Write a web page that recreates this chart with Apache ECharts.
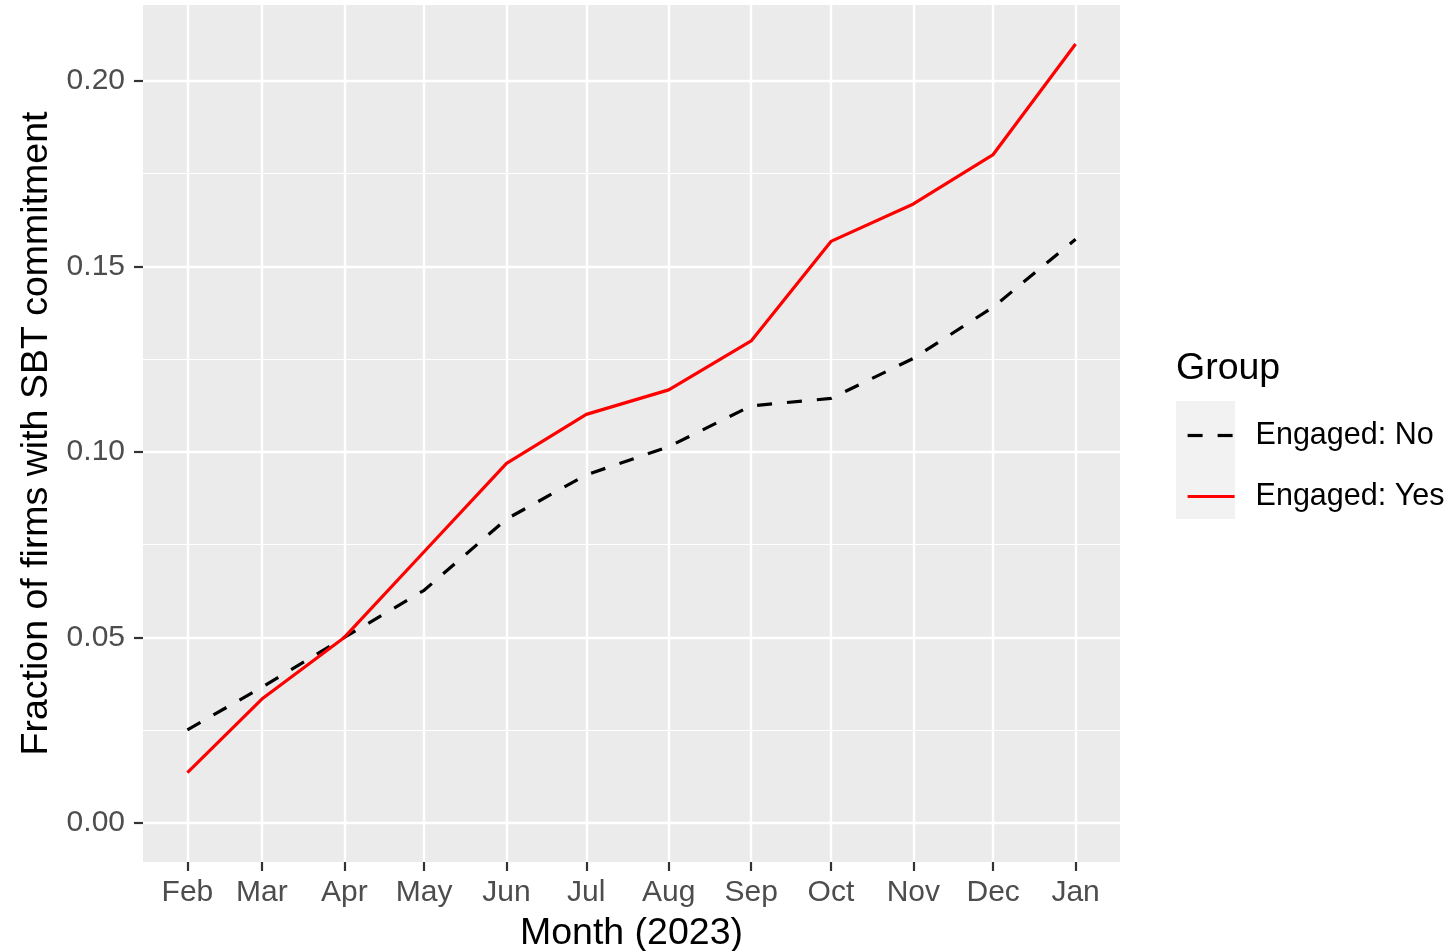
<!DOCTYPE html>
<html><head><meta charset="utf-8">
<script src="https://cdn.jsdelivr.net/npm/echarts@6/dist/echarts.min.js"></script>
<style>html,body{margin:0;padding:0;background:#fff}#c{width:1452px;height:951px}</style>
</head><body><div id="c"></div>
<script>
const months = ['2023-02-01','2023-03-01','2023-04-01','2023-05-01','2023-06-01','2023-07-01','2023-08-01','2023-09-01','2023-10-01','2023-11-01','2023-12-01','2024-01-01'];
const monthLabels = ['Feb','Mar','Apr','May','Jun','Jul','Aug','Sep','Oct','Nov','Dec','Jan'];
const engagedNo  = [0.0251,0.0366,0.0500,0.0627,0.0819,0.0938,0.1014,0.1124,0.1144,0.1252,0.1390,0.1573];
const engagedYes = [0.0136,0.0334,0.0500,0.0731,0.0969,0.1101,0.1167,0.1299,0.1567,0.1668,0.1801,0.2099];
const yTicks = [0, 0.05, 0.10, 0.15, 0.20];
const yTickLabels = ['0.00','0.05','0.10','0.15','0.20'];
const yMinorTicks = [0.025, 0.075, 0.125, 0.175];

// x as days since first month (dates kept in 'months')
const DAY = 86400000;
const toTs = s => { const p = s.split('-').map(Number); return Date.UTC(p[0], p[1]-1, p[2]); };
const xDays = months.map(s => Math.round((toTs(s) - toTs(months[0])) / DAY));
const xRange = xDays[xDays.length-1] - xDays[0];
const xMin = xDays[0] - 0.05*xRange, xMax = xDays[xDays.length-1] + 0.05*xRange;
const yDataMax = Math.max(...engagedNo, ...engagedYes);
const yMin = -0.05*yDataMax, yMax = yDataMax*1.05;

const FONT = 'Liberation Sans';
const LW = 3.2;
const DASH = [15, 15];
const chart = echarts.init(document.getElementById('c'));
chart.setOption({
  backgroundColor: '#ffffff',
  animation: false,
  textStyle: { fontFamily: FONT },
  title: {
    text: 'Group', left: 1171, top: 345,
    textStyle: { fontFamily: FONT, fontSize: 37.5, fontWeight: 'normal', color: '#000', lineHeight: 37 }
  },
  graphic: [{
    type: 'rect', left: 1176, top: 401, z: -1,
    shape: { width: 59, height: 118 }, style: { fill: '#f2f2f2' }
  }],
  legend: {
    orient: 'vertical', left: 1181, top: 415,
    itemWidth: 47, itemHeight: 30, itemGap: 30,
    itemStyle: { color: 'transparent', borderWidth: 0, opacity: 0 },
    data: [
      { name: 'Engaged: No', lineStyle: { color: '#000', width: LW, type: DASH, cap: 'butt' } },
      { name: 'Engaged: Yes', lineStyle: { color: '#ff0000', width: LW, type: 'solid' } }
    ],
    textStyle: { fontFamily: FONT, fontSize: 30.5, color: '#000', padding: [0,0,0,16], lineHeight: 30 }
  },
  grid: { left: 143, top: 5, width: 977, height: 857, outerBoundsMode: 'none', containLabel: false,
          backgroundColor: '#ebebeb', show: true, borderWidth: 0 },
  xAxis: {
    type: 'value', min: xMin, max: xMax,
    name: 'Month (2023)', nameLocation: 'middle', nameGap: 53,
    nameTextStyle: { fontFamily: FONT, fontSize: 37.5, color: '#000' },
    axisLine: { show: false, onZero: false },
    axisTick: { show: true, customValues: xDays, length: 9, lineStyle: { color: '#333', width: 2.2 } },
    axisLabel: {
      customValues: xDays, margin: 16, fontFamily: FONT, fontSize: 30, color: '#4d4d4d',
      formatter: v => { const i = xDays.findIndex(d => Math.abs(d - v) < 1e-6); return i >= 0 ? monthLabels[i] : ''; }
    },
    splitLine: { show: true, lineStyle: { color: '#ffffff', width: 2.4 } }
  },
  yAxis: [{
    type: 'value', min: yMin, max: yMax,
    name: 'Fraction of firms with SBT commitment', nameLocation: 'middle', nameGap: 87,
    nameTextStyle: { fontFamily: FONT, fontSize: 37.5, color: '#000' },
    axisLine: { show: false, onZero: false },
    axisTick: { show: true, customValues: yTicks, length: 9, lineStyle: { color: '#333', width: 2.2 } },
    axisLabel: {
      customValues: yTicks, margin: 18, fontFamily: FONT, fontSize: 30, color: '#4d4d4d',
      formatter: v => { const i = yTicks.findIndex(t => Math.abs(t - v) < 1e-9); return i >= 0 ? yTickLabels[i] : ''; }
    },
    splitLine: { show: true, lineStyle: { color: '#ffffff', width: 2.4 } }
  }, {
    type: 'value', min: yMin, max: yMax, position: 'right',
    axisLine: { show: false, onZero: false },
    axisTick: { show: false, customValues: yMinorTicks },
    axisLabel: { show: false, customValues: yMinorTicks },
    splitLine: { show: true, lineStyle: { color: '#ffffff', width: 1.2 } }
  }],
  series: [{
    name: 'Engaged: No', type: 'line', symbol: 'none', yAxisIndex: 0,
    data: xDays.map((t, i) => [t, engagedNo[i]]),
    itemStyle: { color: '#000000' },
    lineStyle: { color: '#000000', width: LW, type: DASH, cap: 'butt' }
  }, {
    name: 'Engaged: Yes', type: 'line', symbol: 'none', yAxisIndex: 0,
    data: xDays.map((t, i) => [t, engagedYes[i]]),
    itemStyle: { color: '#ff0000' },
    lineStyle: { color: '#ff0000', width: LW, type: 'solid' }
  }]
});
</script></body></html>
